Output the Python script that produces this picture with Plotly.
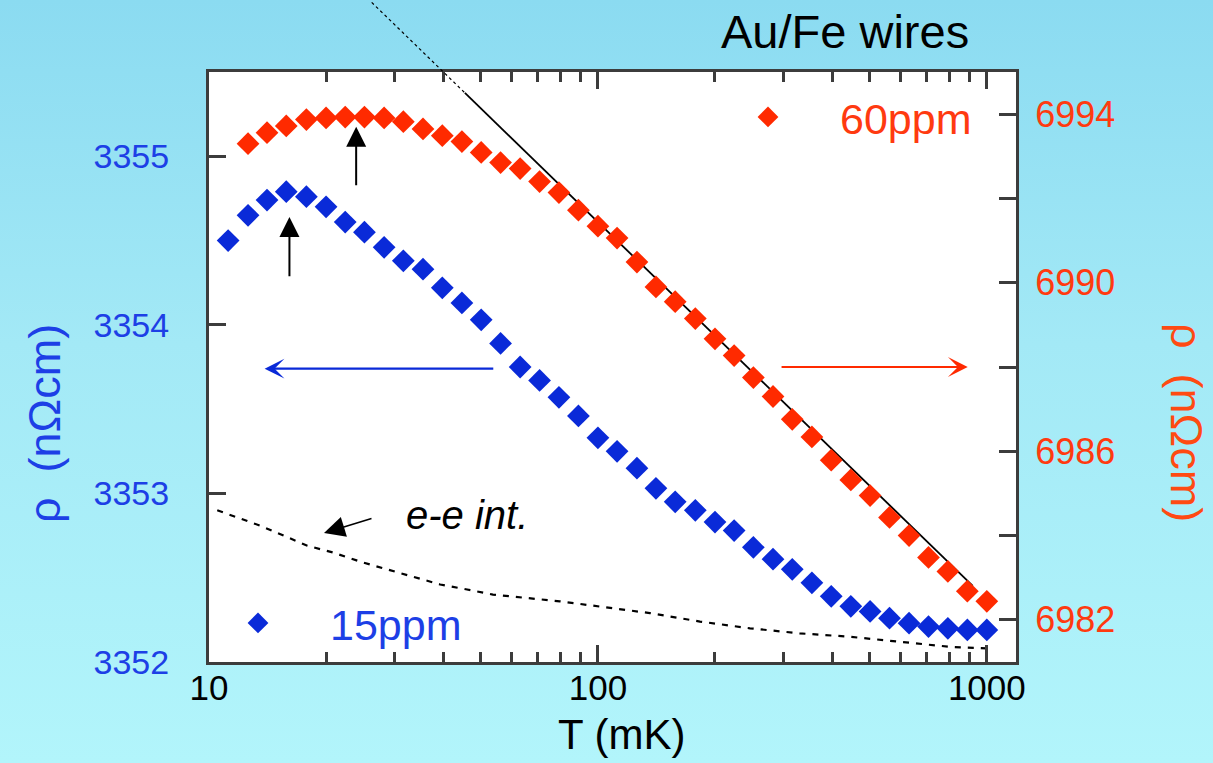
import base64
import numpy as np
import plotly.graph_objects as go

# ---------------- data ----------------
T_15ppm = [11.2, 12.6, 14.1, 15.8, 17.8, 20.0, 22.4, 25.1, 28.2, 31.6, 35.5, 39.8, 44.7, 50.1,
           56.2, 63.1, 70.8, 79.4, 89.1, 100, 112, 126, 141, 158, 178, 200, 224, 251, 282, 316,
           355, 398, 447, 501, 562, 631, 708, 794, 891, 1000]
rho_15ppm = [3354.50, 3354.65, 3354.74, 3354.79, 3354.76, 3354.70, 3354.61, 3354.55, 3354.46,
             3354.38, 3354.33, 3354.22, 3354.13, 3354.03, 3353.89, 3353.75, 3353.67, 3353.57,
             3353.46, 3353.33, 3353.25, 3353.15, 3353.03, 3352.95, 3352.90, 3352.83, 3352.78,
             3352.68, 3352.61, 3352.55, 3352.47, 3352.39, 3352.33, 3352.30, 3352.26, 3352.23,
             3352.21, 3352.20, 3352.19, 3352.19]

T_60ppm = [12.6, 14.1, 15.8, 17.8, 20.0, 22.4, 25.1, 28.2, 31.6, 35.5, 39.8, 44.7, 50.1,
           56.2, 63.1, 70.8, 79.4, 89.1, 100, 112, 126, 141, 158, 178, 200, 224, 251, 282, 316,
           355, 398, 447, 501, 562, 631, 708, 794, 891, 1000]
rho_60ppm = [6993.30, 6993.56, 6993.72, 6993.87, 6993.91, 6993.93, 6993.93, 6993.91, 6993.82,
             6993.65, 6993.49, 6993.35, 6993.09, 6992.85, 6992.71, 6992.40, 6992.14, 6991.72,
             6991.34, 6991.06, 6990.49, 6989.90, 6989.55, 6989.15, 6988.67, 6988.27, 6987.75,
             6987.30, 6986.76, 6986.34, 6985.79, 6985.32, 6984.95, 6984.43, 6984.00, 6983.48,
             6983.15, 6982.68, 6982.44]

# e-e interaction contribution (left axis)
T_ee = [10.5, 13.5, 17.9, 20.8, 24.9, 28.7, 34.3, 39.3, 46.1, 53.7, 79.8, 101, 136, 183, 246,
        330, 444, 597, 803, 1018]
rho_ee = [3352.90, 3352.81, 3352.69, 3352.65, 3352.59, 3352.55, 3352.50, 3352.46, 3352.43,
          3352.40, 3352.36, 3352.33, 3352.29, 3352.24, 3352.20, 3352.17, 3352.15, 3352.12,
          3352.09, 3352.08]

# log-T fit of the 60ppm data: rho = fit_rho100 - fit_slope*(log10 T - 2)
fit_rho100 = 6991.44
fit_slope = 8.96
fit_T_solid = [45.5, 920]
fit_T_dotted = [26.2, 45.5]

# peak arrows (T, tip, tail)
arrow15 = (16.1, 3354.64, 3354.28)
arrow60 = (23.9, 6993.70, 6992.28)
# axis-pointing arrows (T tip, T tail, rho)
axis_arrow15 = (13.9, 54.3, 3353.74)
axis_arrow60 = (893, 294, 6988.0)

x_tickvals = [10, 100, 1000]
x_minor = [20, 30, 40, 50, 60, 70, 80, 90, 200, 300, 400, 500, 600, 700, 800, 900]
y1_tickvals = [3352, 3353, 3354, 3355]
y2_tickvals = [6982, 6984, 6986, 6988, 6990, 6992, 6994]
y2_ticktext = ['6982', '', '6986', '', '6990', '', '6994']

# ---------------- style ----------------
W, H = 1213, 763
ML, MR, MT, MB = 209, 197, 72, 101
PW, PH = W - ML - MR, H - MT - MB
X_RANGE = [1, 3.075]
Y1_RANGE = [3352, 3355.5]
Y2_RANGE = [6981, 6995]
BLUE = '#0a2ad8'
BLUE_T = '#1d3fe6'
RED = '#ff2a00'
RED_T = '#ff3a10'
AX = '#3c3c3c'
FONT = 'Liberation Sans, Arial, sans-serif'


def px(xp):
    return (xp - ML) / PW


def py(yp):
    return (H - MB - yp) / PH


def fit(T):
    return fit_rho100 - fit_slope * (np.log10(T) - 2)


fig = go.Figure()

fig.add_trace(go.Scatter(x=T_ee, y=rho_ee, mode='lines', showlegend=False,
                         line=dict(color='black', width=2.2, dash='6px,7px')))
fig.add_trace(go.Scatter(x=fit_T_solid, y=[fit(t) for t in fit_T_solid], mode='lines',
                         yaxis='y2', showlegend=False, line=dict(color='black', width=1.8)))
fig.add_trace(go.Scatter(x=T_15ppm, y=rho_15ppm, mode='markers', name='15ppm',
                         marker=dict(symbol='diamond', size=17.5, color=BLUE), legend='legend'))
fig.add_trace(go.Scatter(x=T_60ppm, y=rho_60ppm, mode='markers', name='60ppm', yaxis='y2',
                         marker=dict(symbol='diamond', size=17.5, color=RED), legend='legend2'))

# dotted extension of the fit (extends beyond the frame)
def to_paper(T, rho):
    return ((np.log10(T) - X_RANGE[0]) / (X_RANGE[1] - X_RANGE[0]),
            (rho - Y2_RANGE[0]) / (Y2_RANGE[1] - Y2_RANGE[0]))

p0 = to_paper(fit_T_dotted[0], fit(fit_T_dotted[0]))
p1 = to_paper(fit_T_dotted[1], fit(fit_T_dotted[1]))
shapes = [
    # white plotting area above the gradient image
    dict(type='rect', xref='paper', yref='paper', x0=0, y0=0, x1=1, y1=1,
         fillcolor='white', line=dict(width=0), layer='below'),
    dict(type='line', xref='paper', yref='paper', x0=p0[0], y0=p0[1], x1=p1[0], y1=p1[1],
         line=dict(color='black', width=1.2, dash='dot'), layer='above'),
]

# gradient background
svg = ('<svg xmlns="http://www.w3.org/2000/svg" width="10" height="100" viewBox="0 0 10 100" '
       'preserveAspectRatio="none"><defs><linearGradient id="g" x1="0" y1="0" x2="0" y2="1">'
       '<stop offset="0" stop-color="#8bdbf1"/><stop offset="0.45" stop-color="#a3e9f6"/>'
       '<stop offset="1" stop-color="#b2f5fb"/></linearGradient></defs>'
       '<rect width="10" height="100" fill="url(#g)"/></svg>')
src = 'data:image/svg+xml;base64,' + base64.b64encode(svg.encode()).decode()
images = [dict(source=src, xref='paper', yref='paper', x=-ML / PW, y=(H - MB) / PH,
               sizex=W / PW, sizey=H / PH, xanchor='left', yanchor='top', sizing='stretch',
               layer='below')]

ann = []
# peak arrows
ann.append(dict(x=np.log10(arrow15[0]), y=arrow15[1], ax=np.log10(arrow15[0]), ay=arrow15[2],
                xref='x', yref='y', axref='x', ayref='y', showarrow=True, arrowhead=2,
                arrowsize=2, arrowwidth=2, arrowcolor='black', text=''))
ann.append(dict(x=np.log10(arrow60[0]), y=arrow60[1], ax=np.log10(arrow60[0]), ay=arrow60[2],
                xref='x', yref='y2', axref='x', ayref='y2', showarrow=True, arrowhead=2,
                arrowsize=2, arrowwidth=2, arrowcolor='black', text=''))
# axis arrows
ann.append(dict(x=np.log10(axis_arrow15[0]), y=axis_arrow15[2], ax=np.log10(axis_arrow15[1]),
                ay=axis_arrow15[2], xref='x', yref='y', axref='x', ayref='y', showarrow=True,
                arrowhead=3, arrowsize=1.5, arrowwidth=2.2, arrowcolor=BLUE, text=''))
ann.append(dict(x=np.log10(axis_arrow60[0]), y=axis_arrow60[2], ax=np.log10(axis_arrow60[1]),
                ay=axis_arrow60[2], xref='x', yref='y2', axref='x', ayref='y2', showarrow=True,
                arrowhead=3, arrowsize=1.5, arrowwidth=2.2, arrowcolor=RED, text=''))
# e-e label and arrow
ann.append(dict(x=px(324), y=py(533), ax=49, ay=-15, xref='paper', yref='paper',
                axref='pixel', ayref='pixel', showarrow=True, arrowhead=2, arrowsize=2.6,
                arrowwidth=1.6, arrowcolor='black', text=''))
ann.append(dict(x=px(404), y=py(515), xref='paper', yref='paper', xanchor='left',
                yanchor='middle', showarrow=False, text='<i>e-e int.</i>',
                font=dict(family=FONT, size=40, color='black')))
# titles
ann.append(dict(x=px(971), y=py(32), xref='paper', yref='paper', xanchor='right',
                yanchor='middle', showarrow=False, text='Au/Fe wires',
                font=dict(family=FONT, size=47, color='black')))
ann.append(dict(x=px(622), y=py(734), xref='paper', yref='paper', xanchor='center',
                yanchor='middle', showarrow=False, text='T (mK)',
                font=dict(family=FONT, size=42, color='black')))
ann.append(dict(x=px(45), y=py(424), xref='paper', yref='paper', xanchor='center',
                yanchor='middle', showarrow=False, text='ρ  (nΩcm)', textangle=-90,
                font=dict(family=FONT, size=45, color=BLUE_T)))
ann.append(dict(x=px(1187), y=py(422), xref='paper', yref='paper', xanchor='center',
                yanchor='middle', showarrow=False, text='ρ  (nΩcm)', textangle=90,
                font=dict(family=FONT, size=45, color='#ff4a12')))

axis_common = dict(showgrid=False, zeroline=False, showline=True, linecolor=AX, linewidth=3,
                   ticks='inside', ticklen=17, tickwidth=3, tickcolor=AX)

fig.update_layout(
    width=W, height=H,
    margin=dict(l=ML, r=MR, t=MT, b=MB, pad=0),
    paper_bgcolor='#a3e9f6', plot_bgcolor='white',
    font=dict(family=FONT),
    xaxis=dict(type='log', range=X_RANGE, tickvals=x_tickvals, ticktext=['10', '100', '1000'],
               mirror='ticks', tickfont=dict(size=35, color='black'), ticklabelstandoff=-7,
               minor=dict(tickvals=x_minor, ticks='inside', ticklen=10, tickwidth=3,
                          tickcolor=AX, showgrid=False),
               **axis_common),
    yaxis=dict(range=Y1_RANGE, tickvals=y1_tickvals, tickfont=dict(size=34, color=BLUE_T),
               ticklabelstandoff=30, **axis_common),
    yaxis2=dict(range=Y2_RANGE, overlaying='y', side='right', tickvals=y2_tickvals,
                ticktext=y2_ticktext, tickfont=dict(size=36, color=RED_T),
                ticklabelstandoff=9, **axis_common),
    legend=dict(x=px(258 - 72), y=py(623), xanchor='left', yanchor='middle', itemwidth=134,
                bgcolor='rgba(0,0,0,0)', font=dict(family=FONT, size=43, color=BLUE_T)),
    legend2=dict(x=px(768 - 72), y=py(117), xanchor='left', yanchor='middle', itemwidth=134,
                 bgcolor='rgba(0,0,0,0)', font=dict(family=FONT, size=43, color=RED_T)),
    shapes=shapes, images=images, annotations=ann,
)

fig.write_html('out.html')
